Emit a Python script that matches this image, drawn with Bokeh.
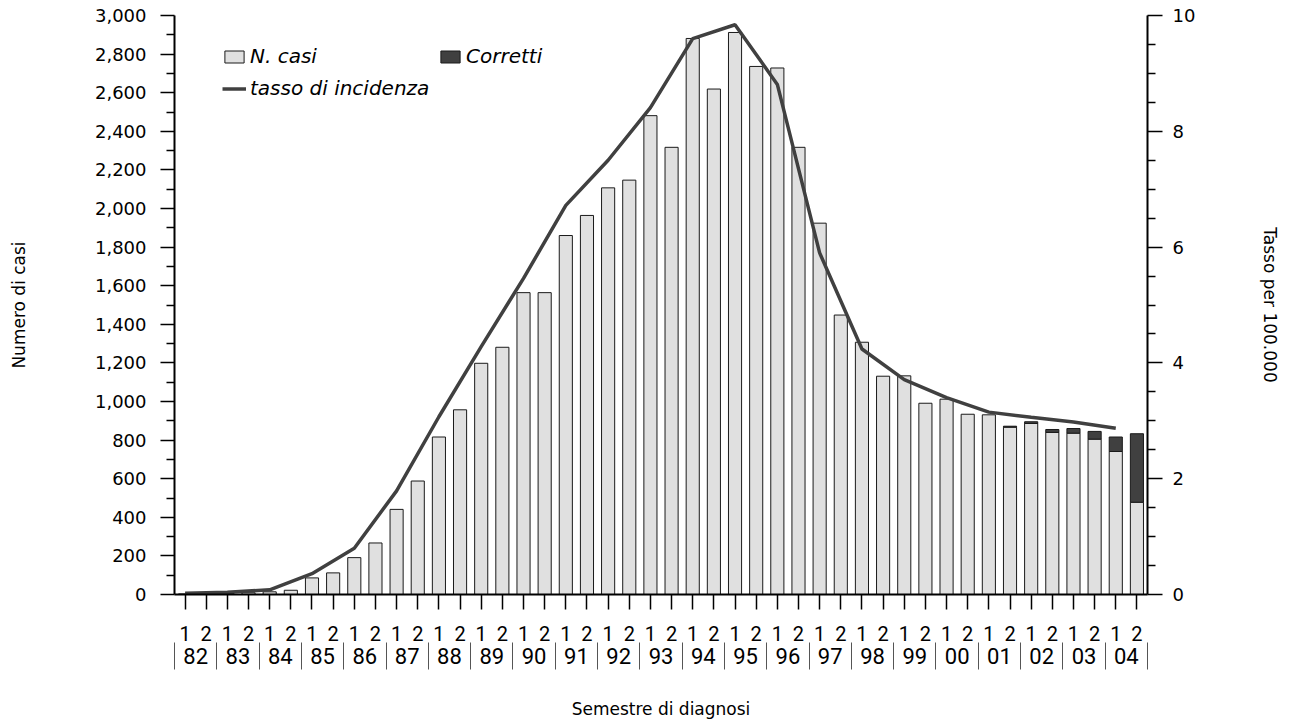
from bokeh.plotting import figure
from bokeh.models import (Range1d, LinearAxis, FixedTicker, NumeralTickFormatter,
                          Legend, LegendItem, ColumnDataSource)
from bokeh.embed import file_html
from bokeh.resources import INLINE

# ---------------- data ----------------
years = ["82", "83", "84", "85", "86", "87", "88", "89", "90", "91", "92", "93",
         "94", "95", "96", "97", "98", "99", "00", "01", "02", "03", "04"]
semesters = ["1", "2"]

# N. casi per semester (1982-1 ... 2004-2)
casi = [3, 4, 6, 9, 14, 22, 86, 112, 191, 267, 441, 588, 816, 957,
        1198, 1281, 1564, 1564, 1860, 1964, 2107, 2147, 2481, 2317,
        2881, 2619, 2912, 2736, 2728, 2317, 1924, 1448, 1307, 1131,
        1133, 991, 1012, 934, 931, 867, 886, 840, 836, 805, 741, 478]

# Corretti (stacked on top)
corretti = [0] * 39 + [5, 9, 15, 24, 40, 75, 355]

# tasso di incidenza per 100.000 (annual, 1982 ... 2004)
tasso = [0.02, 0.04, 0.08, 0.36, 0.80, 1.79, 3.07, 4.28, 5.46, 6.72, 7.50, 8.41,
         9.60, 9.84, 8.81, 5.90, 4.24, 3.71, 3.40, 3.15, 3.06, 2.98, 2.87]

# ---------------- figure ----------------
n = len(casi)
xs = list(range(n))

LAB_FONT = "DejaVu Sans"
X_FONT = "Roboto"

p = figure(width=1292, height=721, output_backend="svg", toolbar_location=None,
           x_range=Range1d(-0.5, n - 0.5), y_range=Range1d(0, 3000),
           min_border_left=174, min_border_right=145, min_border_top=15,
           min_border_bottom=126)
p.title.visible = False
p.outline_line_color = None
p.xgrid.visible = False
p.ygrid.visible = False
p.background_fill_color = "white"
p.extra_y_ranges = {"rate": Range1d(0, 10)}

src = ColumnDataSource(dict(x=xs, casi=casi))
r_casi = p.vbar(x="x", top="casi", bottom=0, width=0.62, source=src,
                fill_color="#e0e0e0", line_color="#1a1a1a", line_width=1)

ci = [i for i in xs if corretti[i] > 0]
src2 = ColumnDataSource(dict(x=ci, bottom=[casi[i] for i in ci],
                             top=[casi[i] + corretti[i] for i in ci]))
r_corr = p.vbar(x="x", bottom="bottom", top="top", width=0.62, source=src2,
                fill_color="#404040", line_color="#1a1a1a", line_width=1)

lx = [2 * i for i in range(len(tasso))]
r_line = p.line(lx, tasso, y_range_name="rate", line_color="#404040",
                line_width=3.5)

# ---------------- axes ----------------
def style_axis(ax):
    ax.axis_line_color = "black"
    ax.axis_line_width = 2
    ax.major_tick_line_color = "black"
    ax.major_tick_line_width = 1.5
    ax.minor_tick_line_color = "black"
    ax.minor_tick_line_width = 1.5
    ax.major_label_text_color = "black"
    ax.axis_label_text_color = "black"
    ax.axis_label_text_font = LAB_FONT
    ax.axis_label_text_font_style = "normal"
    ax.axis_label_text_font_size = "17px"

# left axis
ya = p.yaxis[0]
style_axis(ya)
ya.ticker = FixedTicker(ticks=list(range(0, 3001, 200)),
                        minor_ticks=list(range(100, 3000, 200)))
ya.formatter = NumeralTickFormatter(format="0,0")
ya.major_tick_out = 14
ya.major_tick_in = 0
ya.minor_tick_out = 8
ya.minor_tick_in = 0
ya.major_label_standoff = 14
ya.major_label_text_font = LAB_FONT
ya.major_label_text_font_size = "18px"
ya.axis_label = "Numero di casi"
ya.axis_label_standoff = 63

# right axis
ra = LinearAxis(y_range_name="rate",
                ticker=FixedTicker(ticks=[0, 2, 4, 6, 8, 10],
                                   minor_ticks=[k * 0.5 for k in range(21) if k % 4 != 0]))
style_axis(ra)
ra.major_tick_out = 15
ra.major_tick_in = 0
ra.minor_tick_out = 8
ra.minor_tick_in = 0
ra.major_label_standoff = 10
ra.major_label_text_font = LAB_FONT
ra.major_label_text_font_size = "18px"
ra.axis_label = "Tasso per 100.000"
ra.axis_label_standoff = 62
p.add_layout(ra, "right")

# bottom axis 1: semester numbers
xa = p.xaxis[0]
style_axis(xa)
xa.ticker = FixedTicker(ticks=xs, minor_ticks=[])
xa.major_label_overrides = {i: semesters[i % 2] for i in xs}
xa.major_tick_out = 15
xa.major_tick_in = 0
xa.major_label_standoff = 16
xa.major_label_text_font = X_FONT
xa.major_label_text_font_size = "20px"

# bottom axis 2: years
yr_ticks = [2 * i + 0.5 for i in range(len(years))]
ax2 = LinearAxis(ticker=FixedTicker(ticks=yr_ticks, minor_ticks=[]))
style_axis(ax2)
ax2.major_label_overrides = {t: years[i] for i, t in enumerate(yr_ticks)}
ax2.axis_line_color = None
ax2.major_tick_line_color = None
ax2.minor_tick_line_color = None
ax2.major_tick_out = 0
ax2.major_tick_in = 0
ax2.minor_tick_out = 0
ax2.minor_tick_in = 0
ax2.major_label_standoff = 4
ax2.major_label_text_font = X_FONT
ax2.major_label_text_font_size = "22px"
p.add_layout(ax2, "below")

# bottom axis 3: year separators (ticks pointing up through the year row) + title
sep_ticks = [2 * i - 0.5 for i in range(len(years) + 1)]
sep_ticks[0] += 0.001
sep_ticks[-1] -= 0.001
ax3 = LinearAxis(ticker=FixedTicker(ticks=[], minor_ticks=sep_ticks))
style_axis(ax3)
ax3.axis_line_color = None
ax3.major_tick_line_color = None
ax3.major_tick_out = 0
ax3.major_tick_in = 0
ax3.minor_tick_in = 24
ax3.minor_tick_out = 3
ax3.minor_tick_line_color = "#555555"
ax3.minor_tick_line_width = 1
ax3.major_label_standoff = 0
ax3.axis_label = "Semestre di diagnosi"
ax3.axis_label_standoff = 29
p.add_layout(ax3, "below")

# ---------------- legend ----------------
leg_kw = dict(padding=0, margin=0, border_line_color=None, background_fill_alpha=0,
              glyph_width=24, glyph_height=15, label_standoff=4, label_height=24,
              label_text_font=LAB_FONT, label_text_font_style="italic",
              label_text_font_size="20px", label_text_color="black")
l1 = Legend(items=[LegendItem(label="N. casi", renderers=[r_casi])],
            location=(48, 526), **leg_kw)
l2 = Legend(items=[LegendItem(label="Corretti", renderers=[r_corr])],
            location=(264, 526), **leg_kw)
l3 = Legend(items=[LegendItem(label="tasso di incidenza", renderers=[r_line])],
            location=(48, 494), **leg_kw)
for lg in (l1, l2, l3):
    p.add_layout(lg)

open("out.html", "w").write(file_html(p, INLINE))
